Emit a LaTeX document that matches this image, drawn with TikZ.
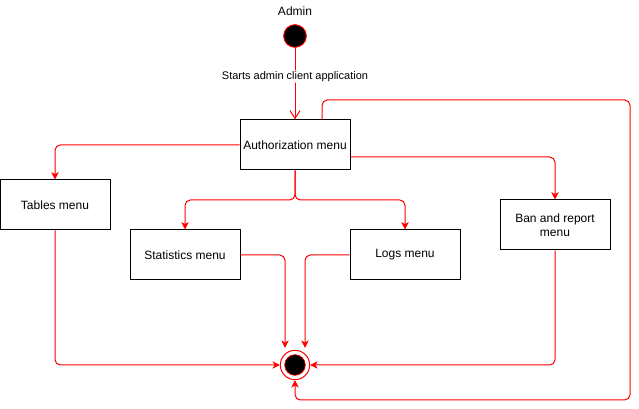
\documentclass[tikz,border=0pt]{standalone}
\usepackage{fontspec}
\setmainfont{Liberation Sans}
\usetikzlibrary{arrows.meta}

\begin{document}
\begin{tikzpicture}[x=0.75pt,y=0.75pt,yscale=-1,xscale=1,
	menubox/.style={draw=black, line width=0.75pt, fill=white, minimum width=82.5pt, minimum height=37.5pt, align=center, inner sep=0.75pt, font=\fontsize{9}{10.5}\selectfont},
	flow/.style={color={rgb, 255:red, 255; green, 0; blue, 0}, draw opacity=1, line width=0.75pt, rounded corners=4pt, -{Stealth[length=5.5pt,width=5.5pt,inset=1.5pt]}},
	caption/.style={text=black, inner sep=0.75pt, font=\fontsize{9}{10.5}\selectfont}]
	\useasboundingbox (0,0) rectangle (639,409);
	\draw (295,11) node [caption] (admin) {Admin};
	\draw (295,36) node [circle, draw={rgb, 255:red, 255; green, 0; blue, 0}, fill=black, line width=0.75pt, minimum size=17pt, inner sep=0pt] (start) {};
	\draw (295,145) node [menubox] (auth) {Authorization menu};
	\draw (55,205) node [menubox] (tables) {Tables menu};
	\draw (185,255) node [menubox] (stat) {Statistics menu};
	\draw (405,255) node [menubox] (logs) {Logs menu};
	\draw (555,225) node [menubox] (ban) {Ban and report\\menu};
	\draw (295,365) node [circle, draw={rgb, 255:red, 255; green, 0; blue, 0}, fill=white, line width=0.75pt, minimum size=22pt, inner sep=0pt] (final) {};
	\draw (295,365) node [circle, draw={rgb, 255:red, 255; green, 0; blue, 0}, fill=black, line width=0.5pt, minimum size=15.5pt, inner sep=0pt] (finaldot) {};
	\coordinate (split) at (295,200);
	\coordinate (loopne) at (630,100);
	\coordinate (loopse) at (630,400);
	\draw [flow, -{Straight Barb[length=6pt,width=7.5pt]}] (start) -- (auth) node [caption, pos=0.4, fill=white, font=\fontsize{8.25}{10}\selectfont] (startlabel) {Starts admin client application};
	\draw [flow] (auth.west) -| (tables.north);
	\draw [flow] ([yshift=9pt]auth.east) -| (ban.north);
	\draw [flow] (auth.south) -- (split) -| (stat.north);
	\draw [flow] (auth.south) -- (split) -| (logs.north);
	\draw [flow] ([xshift=20.25pt]auth.north) |- (loopne) -- (loopse) -| (final.south);
	\draw [flow] (tables.south) |- (final.west);
	\draw [flow] (stat.east) -| ([xshift=-7.5pt,yshift=-1.5pt]final.north);
	\draw [flow] (logs.west) -| ([xshift=7.5pt,yshift=-1.5pt]final.north);
	\draw [flow] (ban.south) |- (final.east);
\end{tikzpicture}
\end{document}
